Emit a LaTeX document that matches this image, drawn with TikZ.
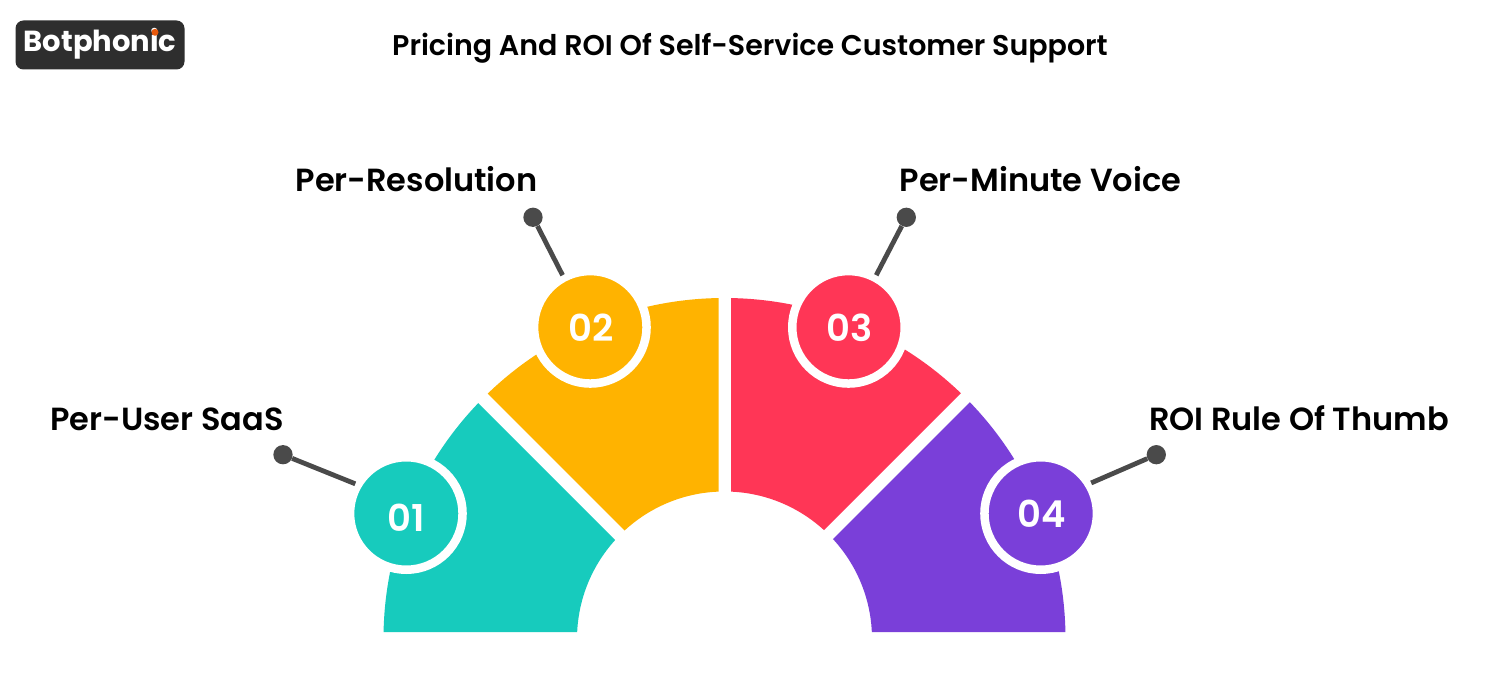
\documentclass[tikz,border=0pt]{standalone}
\usepackage{fontspec}
\setmainfont{Poppins}[UprightFont={* Medium},BoldFont={* SemiBold}]
\newfontfamily\logofont{Poppins}[UprightFont={* Bold}]
\definecolor{teal1}{HTML}{17CBBD}
\definecolor{amber1}{HTML}{FFB300}
\definecolor{rose1}{HTML}{FF3656}
\definecolor{violet1}{HTML}{7A3FD9}
\definecolor{ink1}{HTML}{4A4A4A}
\definecolor{logo1}{HTML}{2E2E2E}
\definecolor{logodotc}{HTML}{E8590C}
\tikzset{
  numdisc/.style={circle,draw=white,line width=8.5pt,inner sep=0pt,minimum size=112.5pt,text=white,font=\fontsize{37}{37}\selectfont\bfseries},
  pin/.style={circle,fill=ink1,inner sep=0pt,minimum size=19.3pt},
  lead/.style={draw=ink1,line width=4.8pt,shorten >=-1.5pt},
  lbl/.style={inner sep=0pt,text=black,font=\fontsize{32}{32}\selectfont\bfseries,anchor=base},
}
\begin{document}
\begin{tikzpicture}[x=1pt,y=-1pt]
\useasboundingbox (0,0) rectangle (1500,700);
\fill[white] (0,0) rectangle (1500,700);
% logo
\node[fill=logo1,rounded corners=8pt,minimum width=169pt,minimum height=49pt,inner sep=0pt] (logo) at (100,45) {};
\node[text=white,inner sep=0pt,anchor=base,font=\logofont\fontsize{29}{29}\selectfont] (logotext) at (100,52) {Botphonic};
\node[circle,fill=logodotc,inner sep=0pt,minimum size=7pt] (logodot) at (155,32.3) {};
\node[inner sep=0pt,font=\fontsize{28.5}{28.5}\selectfont\bfseries,anchor=base] (title) at (750,56) {Pricing And ROI Of Self-Service Customer Support};
% sectors
\def\ring{(724.5,639) circle[radius=341pt] (724.5,639) circle[radius=147.5pt]}
\begin{scope}
\clip (300,632) -- (300,305) -- (380,305) -- (640,565) -- (640,632) -- cycle;
\fill[teal1,even odd rule] \ring;
\end{scope}
\begin{scope}
\clip (440,346) -- (650,556) -- (718.5,556) -- (718.5,250) -- (440,250) -- cycle;
\fill[amber1,even odd rule] \ring;
\end{scope}
\begin{scope}
\clip (1010,344) -- (800,554) -- (731,554) -- (731,250) -- (1010,250) -- cycle;
\fill[rose1,even odd rule] \ring;
\end{scope}
\begin{scope}
\clip (1150,632) -- (1150,302) -- (1070,302) -- (810,562) -- (810,632) -- cycle;
\fill[violet1,even odd rule] \ring;
\end{scope}
% discs
\node[numdisc,fill=teal1] (c1) at (406.3,513.5) {\raisebox{-5pt}[26pt][0pt]{01}};
\node[numdisc,fill=amber1] (c2) at (590.3,327.3) {\hspace{2pt}02};
\node[numdisc,fill=rose1] (c3) at (848.5,327.3) {\hspace{2pt}03};
\node[numdisc,fill=violet1] (c4) at (1040.7,513.5) {\hspace{2pt}04};
% pins
\node[pin] (p1) at (283,454.7) {};
\node[pin] (p2) at (533,217.3) {};
\node[pin] (p3) at (906.3,217.3) {};
\node[pin] (p4) at (1156.3,454.7) {};
\draw[lead] (p1) -- (c1.150);
\draw[lead] (p2) -- (c2.118);
\draw[lead] (p3) -- (c3.62);
\draw[lead] (p4) -- (c4.31);
% labels
\node[lbl] (l1) at (167,430.5) {Per-User SaaS};
\node[lbl] (l2) at (416.5,192) {Per-Resolution};
\node[lbl] (l3) at (1040.5,192) {Per-Minute Voice};
\node[lbl] (l4) at (1299,430.5) {ROI Rule Of Thumb};
\end{tikzpicture}
\end{document}
